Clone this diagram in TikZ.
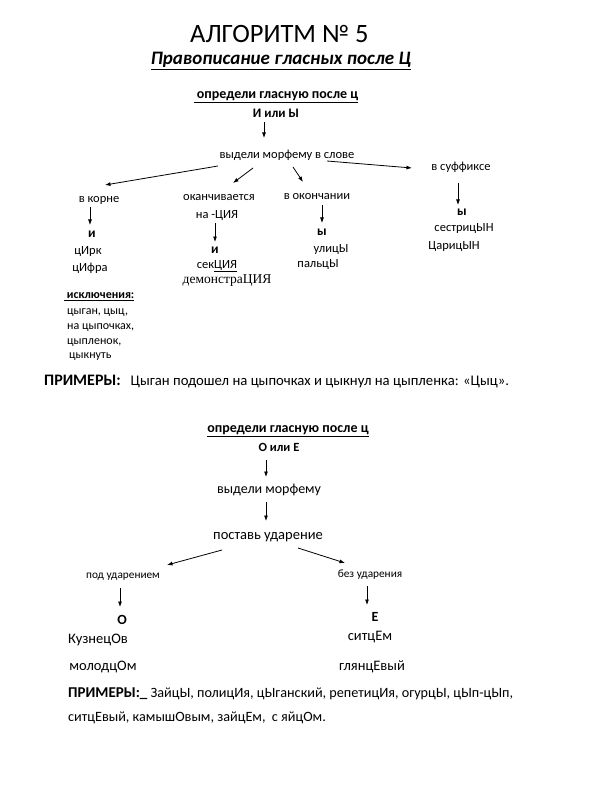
\documentclass[tikz,border=0pt]{standalone}
\usepackage{fontspec}
\setmainfont{Carlito}
\newfontfamily\serifrm{Liberation Serif}
\usetikzlibrary{arrows.meta}
\begin{document}
\begin{tikzpicture}[x=1pt,y=-1pt,
  every node/.style={inner sep=0pt},
  lbl/.style={font=\fontsize{12.5}{15}\selectfont},
  exc/.style={font=\fontsize{12}{14}\selectfont},
  big/.style={font=\fontsize{14.5}{17}\selectfont},
  tiny/.style={font=\fontsize{11.3}{13}\selectfont},
  q/.style={font=\fontsize{14}{16}\selectfont\bfseries},
  choice/.style={font=\fontsize{12.5}{15}\selectfont\bfseries},
  letter/.style={font=\fontsize{13.5}{16}\selectfont\bfseries},
  ex/.style={font=\fontsize{14.2}{17}\selectfont},
  arr/.style={-{Latex[length=5.5pt,width=4pt]}, line width=0.8pt}]
\useasboundingbox[fill=white] (0,0) rectangle (591,794);
% titles
\node[font=\fontsize{26.5}{30}\selectfont, anchor=west] (title) at (190,34) {АЛГОРИТМ № 5};
\node[font=\fontsize{19}{22}\selectfont\bfseries\itshape] (sub) at (281,61) {\underline{Правописание гласных после Ц}};
% part 1
\node[q] (q1) at (276,97) {\underline{\ определи гласную после ц}};
\node[choice, font=\fontsize{13}{15}\selectfont\bfseries] (iy) at (276,113) {И или Ы};
\node[lbl] (vyd) at (287,155) {выдели морфему в слове};
\node[lbl] (vkorne) at (99,200) {в корне};
\node[lbl] (okan) at (219,198) {оканчивается};
\node[lbl] (natsiya) at (217,215) {на -ЦИЯ};
\node[lbl] (vokon) at (317,197) {в окончании};
\node[lbl] (vsuf) at (461,167) {в суффиксе};
\node[letter] (i1) at (92,234) {и};
\node[lbl] (tsirk) at (88,252) {цИрк};
\node[lbl] (tsifra) at (90,268) {цИфра};
\node[letter] (i2) at (215,250) {и};
\node[lbl] (sektsiya) at (217,266) {сек\underline{ЦИЯ}};
\node[font=\fontsize{13.5}{16}\serifrm] (demo) at (227,281) {демонстраЦИЯ};
\node[letter] (y1) at (322,232) {ы};
\node[lbl] (ulitsy) at (331,250) {улицЫ};
\node[lbl] (paltsy) at (318,265) {пальцЫ};
\node[letter] (y2) at (462,212) {ы};
\node[lbl] (sestr) at (464,229) {сестрицЫН};
\node[lbl] (tsar) at (454,247) {ЦарицЫН};
% exceptions
\node[exc, anchor=west, font=\fontsize{12}{14}\selectfont\bfseries] (iskl) at (64,297) {\underline{\ исключения:}};
\node[exc, anchor=west] (ex1) at (67,313) {цыган, цыц,};
\node[exc, anchor=west] (ex2) at (67,328) {на цыпочках,};
\node[exc, anchor=west] (ex3) at (67,343) {цыпленок,};
\node[exc, anchor=west] (ex4) at (69,357) {цыкнуть};
\node[ex, anchor=west, font=\fontsize{14.7}{17}\selectfont] (pr1) at (44,382) {{\fontsize{16}{18}\selectfont\bfseries ПРИМЕРЫ:}\ \ \ Цыган подошел на цыпочках и цыкнул на цыпленка: «Цыц».};
% arrows part 1
\draw[arr] ([shift={(-12,9)}]iy.center) -- ([shift={(-23,-17)}]vyd.center);
\draw[arr] ([shift={(-69,11)}]vyd.center) -- ([shift={(6,-15)}]vkorne.center);
\draw[arr] ([shift={(-34,13)}]vyd.center) -- ([shift={(14,-15)}]okan.center);
\draw[arr] ([shift={(6,12)}]vyd.center) -- ([shift={(-14,-15)}]vokon.center);
\draw[arr] ([shift={(40,6)}]vyd.center) -- ([shift={(-49,1)}]vsuf.center);
\draw[arr] ([shift={(-9,7)}]vkorne.center) -- ([shift={(-2,-9)}]i1.center);
\draw[arr] ([shift={(-2,8)}]natsiya.center) -- ([shift={(0,-8)}]i2.center);
\draw[arr] ([shift={(5,8)}]vokon.center) -- ([shift={(0,-9)}]y1.center);
\draw[arr] ([shift={(-3,16)}]vsuf.center) -- ([shift={(-4,-7)}]y2.center);
% part 2
\node[q] (q2) at (288,431) {\underline{определи гласную после ц}};
\node[choice] (oe) at (279,447) {О или Е};
\node[font=\fontsize{14}{16}\selectfont] (vm) at (269,490) {выдели морфему};
\node[big] (pu) at (268,537) {поставь ударение};
\node[tiny] (pod) at (123,577) {под ударением};
\node[tiny] (bez) at (370,575) {без ударения};
\node[letter, font=\fontsize{14}{16}\selectfont\bfseries] (o) at (122,620) {О};
\node[big] (kuz) at (98,640) {КузнецОв};
\node[big] (mol) at (103,667) {молодцОм};
\node[letter, font=\fontsize{14}{16}\selectfont\bfseries] (e) at (375,617) {Е};
\node[big] (sitc) at (370,637) {ситцЕм};
\node[big] (glya) at (372,667) {глянцЕвый};
\draw[arr] ([shift={(-13,13)}]oe.center) -- ([shift={(-3,-13)}]vm.center);
\draw[arr] ([shift={(-3,12)}]vm.center) -- ([shift={(-2,-16)}]pu.center);
\draw[arr] ([shift={(-46,13)}]pu.center) -- ([shift={(44,-12)}]pod.center);
\draw[arr] ([shift={(30,11)}]pu.center) -- ([shift={(-25,-12)}]bez.center);
\draw[arr] ([shift={(-3,11)}]pod.center) -- ([shift={(-2,-13)}]o.center);
\draw[arr] ([shift={(-3,11)}]bez.center) -- ([shift={(-8,-12)}]e.center);
% bottom examples
\node[ex, anchor=west] (pr2) at (68,694) {{\fontsize{15}{17}\selectfont\bfseries ПРИМЕРЫ:\_} ЗайцЫ, полицИя, цЫганский, репетицИя, огурцЫ, цЫп-цЫп,};
\node[ex, anchor=west] (pr3) at (68,718) {ситцЕвый, камышОвым, зайцЕм,\ \ с яйцОм.};
\end{tikzpicture}
\end{document}
